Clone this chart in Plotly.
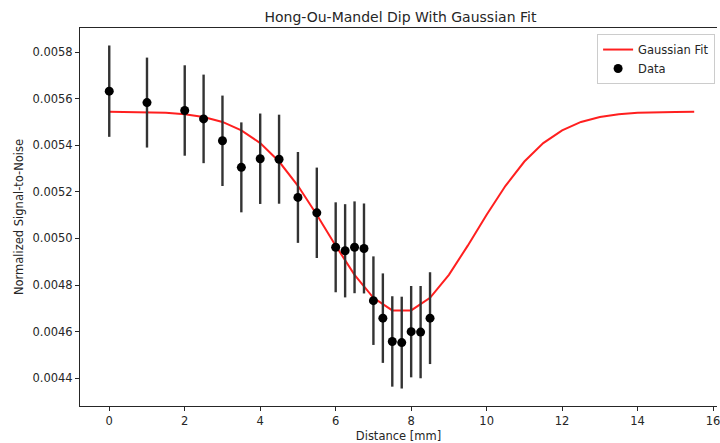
import plotly.graph_objects as go

# Measured HOM dip: stage position, normalized signal-to-noise and its uncertainty
distance_mm = [0, 1, 2, 2.5, 3, 3.5, 4, 4.5, 5, 5.5, 6, 6.25, 6.5, 6.75,
               7, 7.25, 7.5, 7.75, 8, 8.25, 8.5]
snr = [0.005632, 0.005583, 0.005549, 0.005513, 0.005419, 0.005305, 0.005342,
       0.005340, 0.005176, 0.005110, 0.004962, 0.004947, 0.004962, 0.004957,
       0.004733, 0.004658, 0.004558, 0.004553, 0.004600, 0.004598, 0.004658]
snr_err = [0.000196, 0.000193, 0.000194, 0.000190, 0.000194, 0.000193, 0.000194,
           0.000191, 0.000195, 0.000194, 0.000193, 0.000200, 0.000197, 0.000193,
           0.000190, 0.000192, 0.000194, 0.000197, 0.000196, 0.000198, 0.000197]

# Gaussian fit sampled every 0.5 mm
fit_x = [0, 0.5, 1, 1.5, 2, 2.5, 3, 3.5, 4, 4.5, 5, 5.5, 6, 6.5, 7, 7.5,
         8, 8.5, 9, 9.5, 10, 10.5, 11, 11.5, 12, 12.5, 13, 13.5, 14, 14.5, 15, 15.5]
fit_y = [0.005544, 0.005543, 0.005542, 0.005539, 0.005533, 0.005521, 0.005500,
         0.005464, 0.005409, 0.005330, 0.005226, 0.005102, 0.004969, 0.004844,
         0.004745, 0.004691, 0.004691, 0.004745, 0.004844, 0.004969, 0.005102,
         0.005226, 0.005330, 0.005409, 0.005464, 0.005500, 0.005521, 0.005533,
         0.005539, 0.005542, 0.005543, 0.005544]

x_ticks = [0, 2, 4, 6, 8, 10, 12, 14, 16]
y_ticks = [0.0044, 0.0046, 0.0048, 0.0050, 0.0052, 0.0054, 0.0056, 0.0058]

FONT = "DejaVu Sans"
TXT = "#262626"

fig = go.Figure()
fig.add_trace(go.Scatter(
    x=fit_x, y=fit_y, mode="lines", name="Gaussian Fit",
    line=dict(color="rgba(255,0,0,0.88)", width=2),
))
fig.add_trace(go.Scatter(
    x=distance_mm, y=snr, mode="markers", name="Data",
    marker=dict(color="black", size=9),
    error_y=dict(type="data", array=snr_err, visible=True,
                 color="#333333", thickness=2.4, width=0),
))

fig.update_layout(
    width=720, height=443,
    margin=dict(l=80, r=0, t=28, b=37),
    paper_bgcolor="white", plot_bgcolor="white",
    font=dict(family=FONT, size=11.5, color=TXT),
    title=dict(text="Hong-Ou-Mandel Dip With Gaussian Fit",
               font=dict(family=FONT, size=14, color=TXT),
               x=0.503, xref="paper", xanchor="center",
               y=1 - 17 / 443, yref="container", yanchor="middle"),
    showlegend=True,
    legend=dict(x=0.997, y=0.984, xanchor="right", yanchor="top",
                bgcolor="rgba(255,255,255,0.8)", bordercolor="#cccccc",
                borderwidth=1, font=dict(family=FONT, size=11.5, color=TXT),
                tracegroupgap=0, itemwidth=30),
)

fig.update_xaxes(
    range=[-0.775, 16.104], tickvals=x_ticks,
    ticks="outside", ticklen=4, tickwidth=1, tickcolor=TXT,
    ticklabeloverflow="allow",
    showline=True, linecolor=TXT, linewidth=1, mirror=True,
    showgrid=False, zeroline=False,
    title=dict(text="Distance [mm]", standoff=5,
               font=dict(family=FONT, size=11.5, color=TXT)),
)
fig.update_yaxes(
    range=[0.004281, 0.005903], tickvals=y_ticks, tickformat=".4f",
    ticks="outside", ticklen=4, tickwidth=1, tickcolor=TXT,
    showline=True, linecolor=TXT, linewidth=1, mirror=False,
    showgrid=False, zeroline=False,
    title=dict(text="Normalized Signal-to-Noise", standoff=6,
               font=dict(family=FONT, size=11.5, color=TXT)),
)

fig.write_html("out.html")
